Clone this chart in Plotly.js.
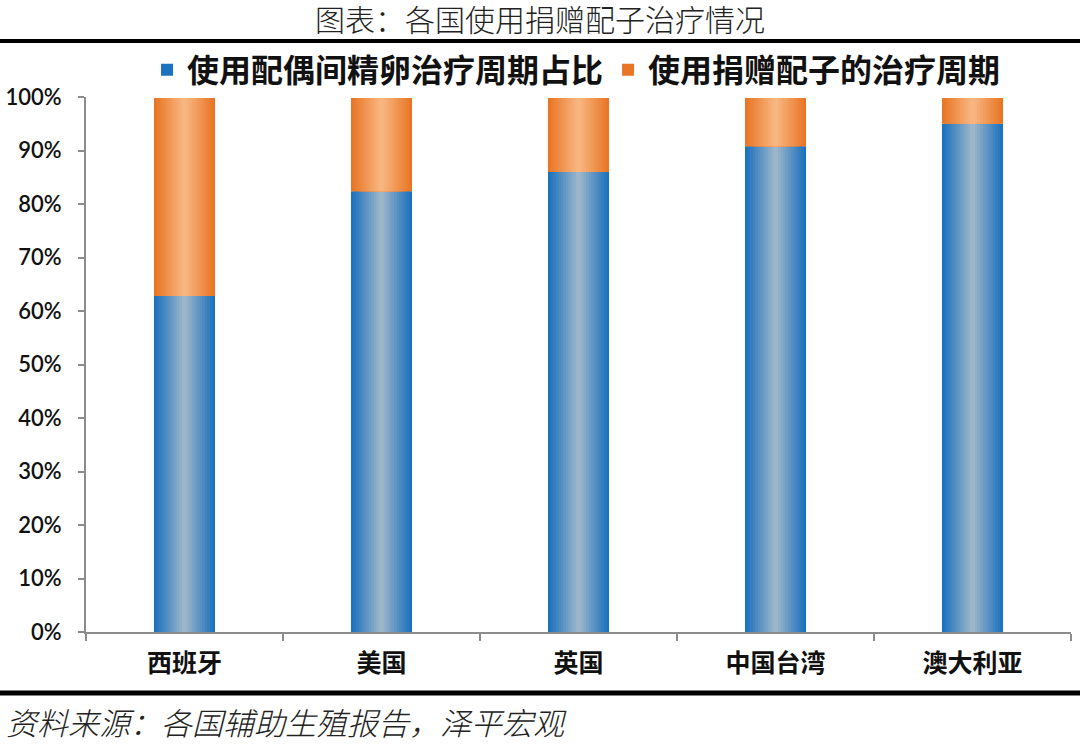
<!DOCTYPE html>
<html>
<head>
<meta charset="utf-8">
<script src="https://cdn.plot.ly/plotly-3.0.1.min.js"></script>
<style>html,body{margin:0;padding:0;background:#fff;}#chart{width:1080px;height:744px;}</style>
</head>
<body>
<div id="chart"></div>
<script>
// ---- data ----
const categories = ['西班牙', '美国', '英国', '中国台湾', '澳大利亚'];
const spouseShare = [62.8, 82.4, 86.0, 90.8, 95.0];   // 使用配偶间精卵治疗周期占比 (%)
const donorShare  = [37.2, 17.6, 14.0, 9.2, 5.0];     // 使用捐赠配子的治疗周期 (%)
const seriesNames = ['使用配偶间精卵治疗周期占比', '使用捐赠配子的治疗周期'];
const yTickVals = [0, 10, 20, 30, 40, 50, 60, 70, 80, 90, 100];

// ---- style helpers (gradient simulated by stacked overlay layers) ----
const BAR_W = 0.31;
const LAYERS = 12;
function mix(c1, c2, t) {
  const r = Math.round(c1[0] + (c2[0] - c1[0]) * t);
  const g = Math.round(c1[1] + (c2[1] - c1[1]) * t);
  const b = Math.round(c1[2] + (c2[2] - c1[2]) * t);
  return `rgb(${r},${g},${b})`;
}
const blueEdge = [28, 114, 190], blueMid = [156, 181, 201];
const orangeEdge = [232, 118, 38], orangeMid = [247, 182, 128];

const traces = [];
for (let i = 0; i < LAYERS; i++) {
  const t = i / (LAYERS - 1);
  const w = BAR_W * (1 - i / LAYERS);
  traces.push({
    type: 'bar', x: categories, y: spouseShare, width: w,
    name: seriesNames[0], legendgroup: 'a', showlegend: i === 0, legendrank: 1,
    marker: {color: mix(blueEdge, blueMid, t), line: {width: 0}},
    hoverinfo: i === 0 ? 'all' : 'skip'
  });
}
for (let i = 0; i < LAYERS; i++) {
  const t = i / (LAYERS - 1);
  const w = BAR_W * (1 - i / LAYERS);
  traces.push({
    type: 'bar', x: categories, y: donorShare, base: spouseShare, width: w,
    name: seriesNames[1], legendgroup: 'b', showlegend: i === 0, legendrank: 2,
    marker: {color: mix(orangeEdge, orangeMid, t), line: {width: 0}},
    hoverinfo: i === 0 ? 'all' : 'skip'
  });
}

const PW = 985, PH = 535;
const layout = {
  width: 1080, height: 744,
  margin: {l: 86, r: 9, t: 97, b: 112},
  paper_bgcolor: '#fff', plot_bgcolor: '#fff',
  barmode: 'overlay',
  title: {
    text: '图表：各国使用捐赠配子治疗情况',
    font: {family: 'Noto Sans CJK SC', size: 30, color: '#222', weight: 300},
    xref: 'container', x: 0.5, xanchor: 'center',
    yref: 'container', y: 1 - 20 / 744, yanchor: 'middle'
  },
  showlegend: true,
  legend: {
    orientation: 'h', x: 0.498, xanchor: 'center', y: 1 + 27 / PH, yanchor: 'middle',
    font: {family: 'Noto Sans CJK SC', size: 32, color: '#111', weight: 700},
    itemwidth: 30, tracegroupgap: 0, traceorder: 'normal'
  },
  xaxis: {
    type: 'category', showline: true, linecolor: '#8c8c8c', linewidth: 2,
    ticks: 'outside', tickson: 'boundaries', ticklen: 7, tickcolor: '#8c8c8c', tickwidth: 2,
    showgrid: false, zeroline: false,
    tickfont: {family: 'Noto Sans CJK SC', size: 25, color: '#111', weight: 700},
    ticklabelstandoff: 8
  },
  yaxis: {
    range: [0, 100], tickvals: yTickVals, ticktext: yTickVals.map(v => v + '%'),
    showline: true, linecolor: '#8c8c8c', linewidth: 2,
    ticks: 'outside', ticklen: 6, tickcolor: '#8c8c8c', tickwidth: 2,
    showgrid: false, zeroline: false,
    ticklabelstandoff: 12,
    tickfont: {family: 'Lato', size: 22, color: '#111', weight: 600}
  },
  shapes: [
    {type: 'line', xref: 'paper', yref: 'paper', x0: -86 / PW, x1: 1 + 9 / PW,
     y0: (632 - 41) / PH, y1: (632 - 41) / PH, line: {color: '#000', width: 4}},
    {type: 'line', xref: 'paper', yref: 'paper', x0: -86 / PW, x1: 1 + 9 / PW,
     y0: (632 - 693) / PH, y1: (632 - 693) / PH, line: {color: '#000', width: 5}}
  ],
  annotations: [{
    text: '资料来源：各国辅助生殖报告，泽平宏观',
    xref: 'paper', yref: 'paper', x: -82 / PW, y: (632 - 721) / PH,
    xanchor: 'left', yanchor: 'middle', showarrow: false,
    font: {family: 'Noto Sans CJK SC', size: 31, color: '#222', style: 'italic', weight: 300}
  }]
};

Plotly.newPlot('chart', traces, layout, {staticPlot: true, displayModeBar: false});
</script>
</body>
</html>
